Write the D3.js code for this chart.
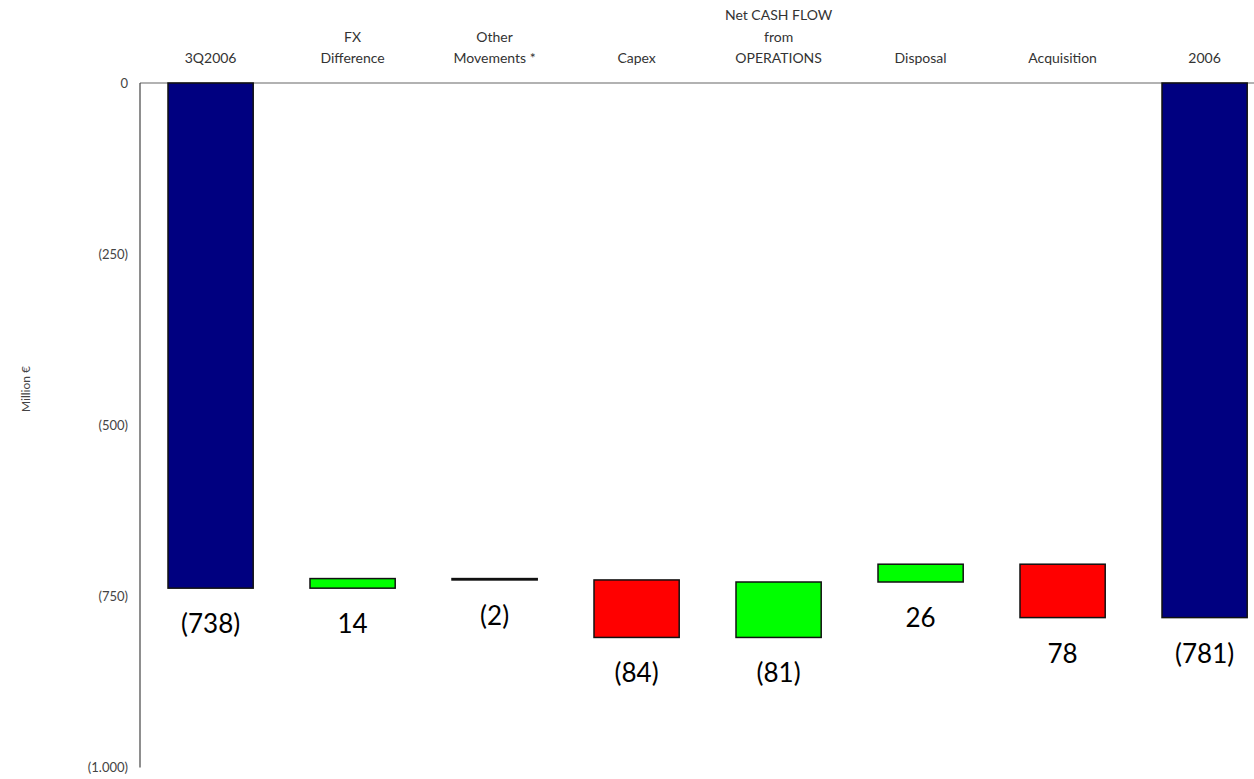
<!DOCTYPE html>
<html>
<head>
<meta charset="utf-8">
<script src="https://cdn.jsdelivr.net/npm/d3@7"></script>
<style>
  html, body { margin: 0; padding: 0; background: #fff; }
  svg { display: block; font-family: Lato, "DejaVu Sans", sans-serif; }
</style>
</head>
<body>
<svg id="chart" width="1254" height="779"></svg>
<script>
// Net debt bridge, million €
const categories = ["3Q2006", "FX|Difference", "Other|Movements *", "Capex",
  "Net CASH FLOW|from|OPERATIONS", "Disposal", "Acquisition", "2006"];
const openingTotal = -738;
const movements = [14, -2, -84, 81, 26, -78];
const closingTotal = -781;
const valueLabels = ["(738)", "14", "(2)", "(84)", "(81)", "26", "78", "(781)"];
const yTicks = [0, -250, -500, -750, -1000];

// Build waterfall segments
const rows = [];
rows.push({ cat: categories[0], y0: 0, y1: openingTotal, kind: "total", label: valueLabels[0] });
let level = openingTotal;
movements.forEach((v, i) => {
  rows.push({ cat: categories[i + 1], y0: level, y1: level + v, kind: v >= 0 ? "up" : "down", label: valueLabels[i + 1] });
  level += v;
});
rows.push({ cat: categories[7], y0: 0, y1: closingTotal, kind: "total", label: valueLabels[7] });

const fills = { total: "#000080", up: "#00FF00", down: "#FF0000" };

const svg = d3.select("#chart");
const x = d3.scaleBand().domain(categories).range([139.6, 1275.6]).paddingInner(0.4).paddingOuter(0.2);
const y = d3.scaleLinear().domain([0, -1000]).range([83, 767.5]);

const locale = d3.formatLocale({ decimal: ",", thousands: ".", grouping: [3], currency: ["", "€"] });
const fmt = locale.format(",d");
const tickText = v => v === 0 ? "0" : "(" + fmt(Math.abs(v)) + ")";

// Axis lines
svg.append("line").attr("x1", 140).attr("x2", 1254).attr("y1", y(0)).attr("y2", y(0))
  .attr("stroke", "#666").attr("stroke-width", 1.2);
svg.append("line").attr("x1", 140).attr("x2", 140).attr("y1", y(0)).attr("y2", y(-1000))
  .attr("stroke", "#444").attr("stroke-width", 1.2);

// Y tick labels
svg.append("g").selectAll("text").data(yTicks).join("text")
  .attr("x", 128).attr("y", d => y(d)).attr("dy", "0.35em")
  .attr("text-anchor", "end").attr("font-size", 13).attr("fill", "#444")
  .text(tickText);

// Axis title
svg.append("text").attr("transform", "translate(26,389) rotate(-90)")
  .attr("text-anchor", "middle").attr("dy", "0.35em")
  .attr("font-size", 12).attr("fill", "#444").text("Million €");

// Category labels along the top, bottom-aligned
const catG = svg.append("g");
categories.forEach(c => {
  const lines = c.split("|");
  const t = catG.append("text").attr("text-anchor", "middle")
    .attr("font-size", 14).attr("fill", "#333");
  lines.forEach((ln, i) => {
    t.append("tspan").attr("x", x(c) + x.bandwidth() / 2)
      .attr("y", 63 - (lines.length - 1 - i) * 21.5).text(ln);
  });
});

// Bars
svg.append("g").selectAll("rect").data(rows).join("rect")
  .attr("x", d => x(d.cat))
  .attr("width", x.bandwidth())
  .attr("y", d => y(Math.max(d.y0, d.y1)))
  .attr("height", d => Math.abs(y(d.y1) - y(d.y0)))
  .attr("fill", d => fills[d.kind])
  .attr("stroke", "#111").attr("stroke-width", 1.5);

// Value labels below each bar
svg.append("g").selectAll("text").data(rows).join("text")
  .attr("x", d => x(d.cat) + x.bandwidth() / 2)
  .attr("y", d => y(Math.min(d.y0, d.y1)) + 45)
  .attr("text-anchor", "middle").attr("font-size", 26).attr("fill", "#000")
  .text(d => d.label);
</script>
</body>
</html>
